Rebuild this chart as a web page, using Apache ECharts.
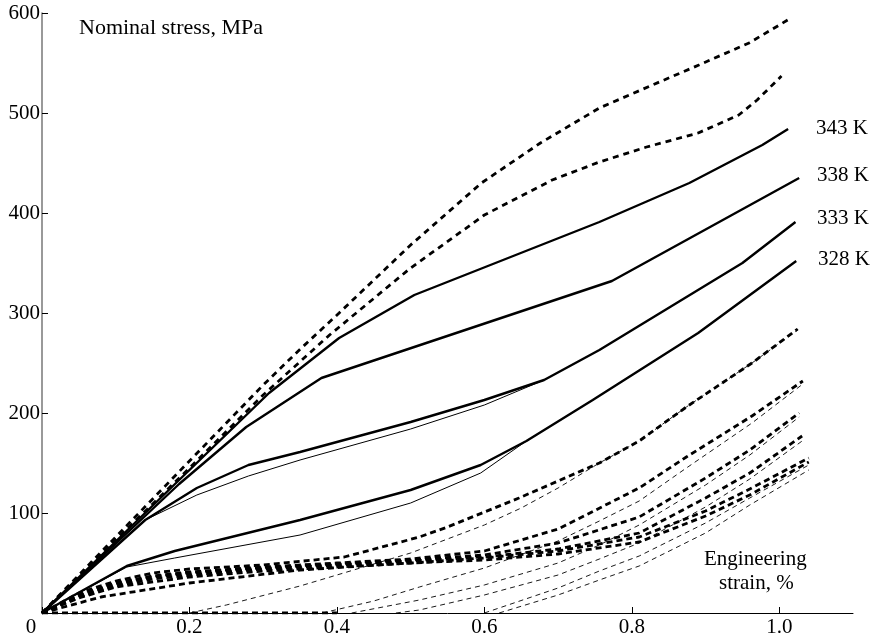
<!DOCTYPE html>
<html lang="en">
<head>
    <meta charset="UTF-8">
    <title>Nominal stress vs engineering strain</title>
    <style>
        body {
            margin: 0;
            background: #fff;
        }
        #chart {
            width: 872px;
            height: 641px;
        }
    </style>
</head>
<body>
    <div id="chart"></div>
    <script src="https://cdn.jsdelivr.net/npm/echarts@6/dist/echarts.min.js"></script>
    <script>
        // [strain %, stress MPa]
        const k343 = [[0, 0], [0.186, 133], [0.308, 220], [0.403, 275], [0.505, 318], [0.756, 391], [0.878, 430], [0.977, 468], [1.012, 484]];
        const k338 = [[0, 0], [0.186, 129], [0.277, 186], [0.379, 235], [0.773, 332], [1.027, 435]];
        const k333 = [[0, 0], [0.14, 93], [0.21, 125], [0.28, 148], [0.35, 161], [0.5, 191], [0.6, 213], [0.681, 233], [0.756, 263], [0.95, 350], [1.022, 391]];
        const k333fit = [[0, 0], [0.14, 93], [0.21, 118], [0.28, 137], [0.35, 153], [0.5, 184], [0.6, 208], [0.681, 233]];
        const k328 = [[0, 0], [0.115, 47], [0.18, 62], [0.35, 93], [0.5, 123], [0.595, 148], [0.657, 172], [0.747, 213], [0.89, 280], [1.023, 352]];
        const k328fit = [[0, 0], [0.115, 46], [0.18, 55], [0.35, 78], [0.5, 110], [0.595, 140], [0.657, 172]];

        const upperA = [[0, 0], [0.1, 76], [0.2, 152], [0.3, 228], [0.349, 263], [0.403, 300], [0.5, 368], [0.596, 430], [0.676, 470], [0.756, 505], [0.828, 528], [0.891, 548], [0.959, 570], [1.016, 595]];
        const upperB = [[0, 0], [0.1, 73], [0.2, 145], [0.3, 218], [0.39, 278], [0.5, 345], [0.6, 398], [0.692, 433], [0.756, 451], [0.82, 466], [0.89, 480], [0.945, 498], [0.97, 513], [1.003, 537]];

        const low1 = [[0, 0], [0.05, 20], [0.1, 32], [0.15, 40], [0.2, 44], [0.3, 48], [0.41, 56], [0.512, 76], [0.55, 86], [0.647, 115], [0.756, 150], [0.81, 172], [0.874, 206], [0.963, 250], [1.025, 284]];
        const low2 = [[0, 0], [0.05, 18], [0.1, 30], [0.15, 37], [0.2, 41], [0.3, 46], [0.4, 50], [0.5, 54], [0.6, 62], [0.7, 84], [0.81, 125], [0.874, 156], [0.963, 197], [1.032, 232]];
        const low3 = [[0, 0], [0.05, 17], [0.1, 29], [0.15, 36], [0.2, 40], [0.3, 45], [0.4, 49], [0.5, 53], [0.6, 58], [0.7, 70], [0.81, 96], [0.9, 135], [0.96, 163], [1.027, 200]];
        const low4 = [[0, 0], [0.05, 16], [0.1, 27], [0.15, 34], [0.2, 38], [0.3, 44], [0.4, 48], [0.5, 52], [0.6, 56], [0.7, 64], [0.81, 80], [0.9, 115], [0.96, 140], [1.031, 177]];
        const low5 = [[0, 0], [0.08, 16], [0.2, 30], [0.35, 43], [0.5, 50], [0.6, 55], [0.7, 62], [0.81, 76], [0.9, 102], [0.96, 124], [1.04, 155]];
        const low6 = [[0, 0], [0.05, 15], [0.1, 26], [0.2, 36], [0.3, 42], [0.4, 46], [0.5, 50], [0.6, 53], [0.7, 59], [0.81, 71], [0.9, 97], [0.96, 118], [1.04, 151]];
        const lowBase = [[0, 0], [0.4, 0]];

        const thin1 = [[0.2, 0], [0.25, 8], [0.35, 27], [0.5, 60], [0.6, 88], [0.65, 105], [0.7, 125], [0.756, 150], [0.81, 172], [0.874, 206], [0.963, 250], [1.025, 283]];
        const thin2 = [[0.38, 0], [0.45, 12], [0.512, 26], [0.6, 45], [0.7, 72], [0.756, 92], [0.81, 112], [0.874, 145], [0.963, 190], [1.032, 229]];
        const thin3 = [[0.42, 0], [0.512, 13], [0.6, 28], [0.7, 50], [0.756, 68], [0.81, 88], [0.9, 128], [0.96, 158], [1.027, 196]];
        const thin4 = [[0.48, 0], [0.512, 3], [0.6, 18], [0.7, 38], [0.756, 54], [0.81, 70], [0.9, 106], [0.96, 134], [1.031, 172]];
        const thin5 = [[0.6, 0], [0.7, 25], [0.756, 42], [0.81, 57], [0.9, 90], [0.96, 115], [1.04, 148]];
        const thin6 = [[0.62, 0], [0.7, 18], [0.756, 33], [0.81, 47], [0.9, 80], [0.96, 108], [1.04, 143]];

        const tempLabels = ['343 K', '338 K', '333 K', '328 K'];
        const xTicks = [0, 0.2, 0.4, 0.6, 0.8, 1.0];

        const serif = '"Liberation Serif", "Times New Roman", serif';

        function line(data, width, type) {
            return {
                type: 'line',
                data: data,
                symbol: 'none',
                silent: true,
                lineStyle: { color: '#000', width: width, type: type || 'solid' },
            };
        }

        const chart = echarts.init(document.getElementById('chart'));
        chart.setOption({
            animation: false,
            backgroundColor: '#fff',
            grid: { left: 42, right: 19, top: 13, bottom: 28 },
            xAxis: {
                type: 'value',
                min: 0,
                max: 1.1,
                interval: 0.2,
                splitLine: { show: false },
                axisLine: { lineStyle: { color: '#000', width: 1 } },
                axisTick: { inside: true, length: 6, lineStyle: { color: '#000' } },
                axisLabel: {
                    color: '#000',
                    fontFamily: serif,
                    fontSize: 21,
                    margin: 4,
                    showMaxLabel: false,
                    formatter: v => {
                        if (!xTicks.some(t => Math.abs(t - v) < 1e-6)) return '';
                        return v === 0 ? '{o|0}' : v.toFixed(1);
                    },
                    rich: { o: { fontFamily: serif, fontSize: 21, color: '#000', padding: [0, 22, 0, 0] } },
                },
            },
            yAxis: {
                type: 'value',
                min: 0,
                max: 600,
                interval: 100,
                splitLine: { show: false },
                axisLine: { show: true, lineStyle: { color: '#777', width: 1.5 } },
                axisTick: { show: true, inside: true, length: 6, lineStyle: { color: '#000' } },
                axisLabel: {
                    color: '#000',
                    fontFamily: serif,
                    fontSize: 21,
                    margin: 2,
                    formatter: v => (v === 0 ? '' : String(v)),
                },
            },
            series: [
                line(thin1, 0.9, [5, 4]),
                line(thin2, 0.9, [5, 4]),
                line(thin3, 0.9, [5, 4]),
                line(thin4, 0.9, [5, 4]),
                line(thin5, 0.9, [5, 4]),
                line(thin6, 0.9, [5, 4]),
                line(lowBase, 2.8, [6, 4]),
                line(low1, 2.8, [6, 4]),
                line(low2, 2.8, [6, 4]),
                line(low3, 2.8, [6, 4]),
                line(low4, 2.8, [6, 4]),
                line(low5, 2.8, [6, 4]),
                line(low6, 2.8, [6, 4]),
                line(upperA, 2.8, [6, 5]),
                line(upperB, 2.8, [6, 5]),
                line(k333fit, 1, 'solid'),
                line(k328fit, 1, 'solid'),
                line(k343, 2.4, 'solid'),
                line(k338, 2.4, 'solid'),
                line(k333, 2.4, 'solid'),
                line(k328, 2.4, 'solid'),
            ],
            graphic: [
                { type: 'text', left: 79, top: 17, style: { text: 'Nominal stress, MPa', font: '22px ' + serif, fill: '#000' } },
                { type: 'text', left: 704, top: 549, style: { text: 'Engineering', font: '21px ' + serif, fill: '#000' } },
                { type: 'text', left: 719, top: 573, style: { text: 'strain, %', font: '21px ' + serif, fill: '#000' } },
                { type: 'text', left: 816, top: 118, style: { text: tempLabels[0], font: '21px ' + serif, fill: '#000' } },
                { type: 'text', left: 817, top: 165, style: { text: tempLabels[1], font: '21px ' + serif, fill: '#000' } },
                { type: 'text', left: 817, top: 208, style: { text: tempLabels[2], font: '21px ' + serif, fill: '#000' } },
                { type: 'text', left: 818, top: 249, style: { text: tempLabels[3], font: '21px ' + serif, fill: '#000' } },
            ],
        });
    </script>
</body>
</html>
